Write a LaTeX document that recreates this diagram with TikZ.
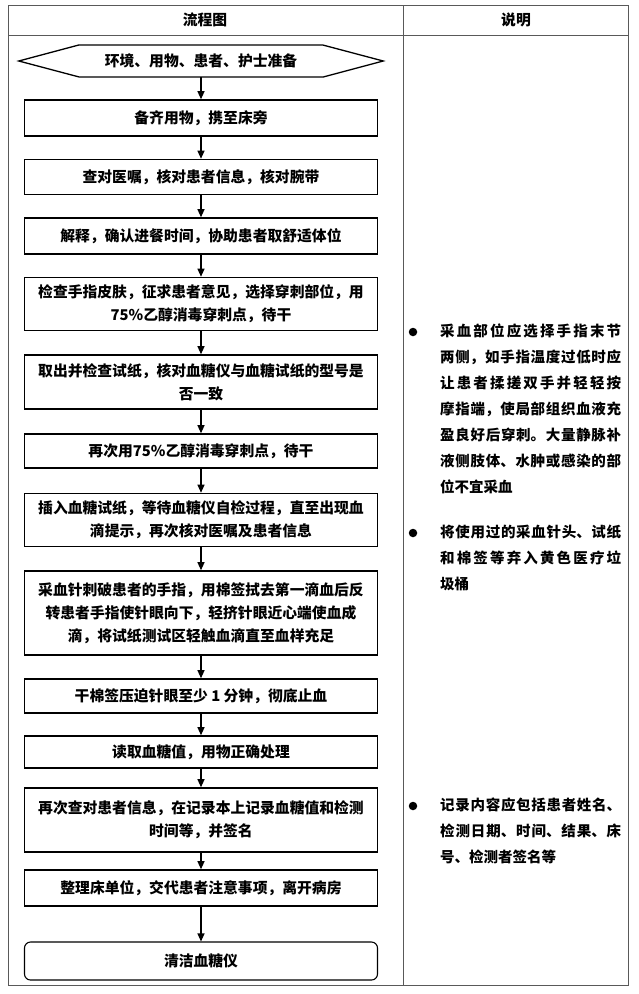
\documentclass[tikz,border=0pt]{standalone}
\usepackage{fontspec}
\usetikzlibrary{arrows.meta}
\newfontfamily\cjk{Noto Sans CJK SC}
\XeTeXlinebreaklocale "zh"
\XeTeXlinebreakskip=0pt plus 4pt
\tikzset{
  stepbox/.style={draw, line width=1.6pt, minimum width=353pt, align=center, inner sep=2pt,
    font=\cjk\bfseries\fontsize{14.8}{23}\selectfont},
  endbox/.style={stepbox, line width=1.1pt, rounded corners=6pt},
  flowarrow/.style={-{Triangle[length=8pt,width=7pt]}, line width=1.2pt},
  tableline/.style={draw=black!65, line width=0.8pt},
  headtext/.style={font=\cjk\bfseries\fontsize{14.8}{18}\selectfont},
  notetext/.style={text width=181pt, align=justify, anchor=north west, inner sep=0pt,
    font=\cjk\bfseries\fontsize{14.5}{26}\selectfont},
  dot/.style={circle, fill, inner sep=0pt, minimum size=8.5pt}
}
\begin{document}
\begin{tikzpicture}[x=1pt,y=-1pt]
\useasboundingbox (0,0) rectangle (638,994);
% table
\draw[tableline] (8,5) rectangle (628,985);
\draw[tableline] (403,5) -- (403,985);
\draw[tableline] (8,35) -- (628,35);
\node[headtext] (hflow) at (205,20) {流程图};
\node[headtext] (hnote) at (516,20) {说明};
% flow chart
\node[headtext, minimum width=364pt, minimum height=32pt, inner sep=0pt] (prep) at (201,61) {环境、用物、患者、护士准备};
\draw[line width=1.3pt] (prep.west) -- ++(60,-16) -- ++(244,0) -- (prep.east) -- ++(-60,16) -- ++(-244,0) -- cycle;
\node[stepbox, minimum height=36pt] (b1) at (201,118) {备齐用物，携至床旁};
\node[stepbox, minimum height=35pt] (b2) at (201,177) {查对医嘱，核对患者信息，核对腕带};
\node[stepbox, minimum height=36pt] (b3) at (201,236) {解释，确认进餐时间，协助患者取舒适体位};
\node[stepbox, minimum height=53pt] (b4) at (201,304) {检查手指皮肤，征求患者意见，选择穿刺部位，用\\75\%乙醇消毒穿刺点，待干};
\node[stepbox, minimum height=54pt] (b5) at (201,382) {取出并检查试纸，核对血糖仪与血糖试纸的型号是\\否一致};
\node[stepbox, minimum height=34pt] (b6) at (201,451) {再次用75\%乙醇消毒穿刺点，待干};
\node[stepbox, minimum height=53pt] (b7) at (201,520) {插入血糖试纸，等待血糖仪自检过程，直至出现血\\滴提示，再次核对医嘱及患者信息};
\node[stepbox, minimum height=84pt] (b8) at (201,613) {采血针刺破患者的手指，用棉签拭去第一滴血后反\\转患者手指使针眼向下，轻挤针眼近心端使血成\\滴，将试纸测试区轻触血滴直至血样充足};
\node[stepbox, minimum height=34pt] (b9) at (201,696) {干棉签压迫针眼至少 1 分钟，彻底止血};
\node[stepbox, minimum height=32pt] (b10) at (201,752) {读取血糖值，用物正确处理};
\node[stepbox, minimum height=64pt] (b11) at (201,820) {再次查对患者信息，在记录本上记录血糖值和检测\\时间等，并签名};
\node[stepbox, minimum height=36pt] (b12) at (201,888) {整理床单位，交代患者注意事项，离开病房};
\node[endbox, minimum height=38pt] (b13) at (201,961) {清洁血糖仪};
\draw[flowarrow] (prep) -- (b1);
\draw[flowarrow] (b1) -- (b2);
\draw[flowarrow] (b2) -- (b3);
\draw[flowarrow] (b3) -- (b4);
\draw[flowarrow] (b4) -- (b5);
\draw[flowarrow] (b5) -- (b6);
\draw[flowarrow] (b6) -- (b7);
\draw[flowarrow] (b7) -- (b8);
\draw[flowarrow] (b8) -- (b9);
\draw[flowarrow] (b9) -- (b10);
\draw[flowarrow] (b10) -- (b11);
\draw[flowarrow] (b11) -- (b12);
\draw[flowarrow] (b12) -- (b13);
% notes
\node[dot] (d1) at (413,332) {};
\node[notetext] (n1) at (440,324) {采血部位应选择手指末节\linebreak 两侧，如手指温度过低时应\linebreak 让患者揉搓双手并轻轻按\linebreak 摩指端，使局部组织血液充\linebreak 盈良好后穿刺。大量静脉补\linebreak 液侧肢体、水肿或感染的部\linebreak 位不宜采血};
\node[dot] (d2) at (413,533) {};
\node[notetext] (n2) at (440,525) {将使用过的采血针头、试纸\linebreak 和棉签等弃入黄色医疗垃\linebreak 圾桶};
\node[dot] (d3) at (413,806) {};
\node[notetext] (n3) at (440,798) {记录内容应包括患者姓名、\linebreak 检测日期、时间、结果、床\linebreak 号、检测者签名等};
\end{tikzpicture}
\end{document}
